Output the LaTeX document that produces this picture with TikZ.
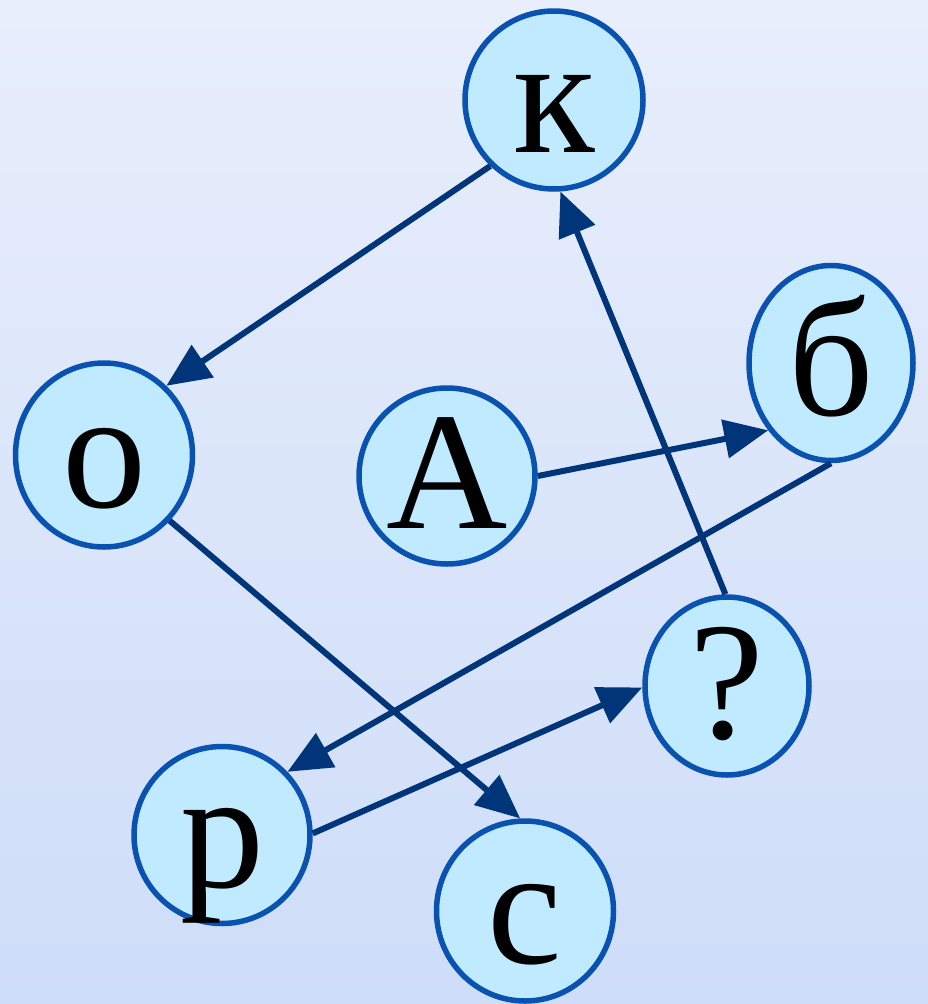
\documentclass[tikz,border=0pt]{standalone}
\usepackage{fontspec}
\setmainfont{Liberation Serif}
\usetikzlibrary{shapes.geometric,arrows.meta}
\definecolor{bgtop}{HTML}{E8EEFC}
\definecolor{bgbot}{HTML}{CEDDF8}
\definecolor{nodefill}{HTML}{C0EAFF}
\definecolor{nodeborder}{HTML}{0A52B0}
\definecolor{arrowcol}{HTML}{00357A}
\tikzset{
  letter/.style={ellipse, draw=nodeborder, line width=5.5pt, fill=nodefill,
    inner sep=0pt, font=\fontsize{168}{168}\selectfont,
    text height=104pt, text depth=0pt},
  link/.style={draw=arrowcol, line width=6pt,
    -{Triangle[length=44pt,width=38pt]}}
}
\begin{document}
\begin{tikzpicture}[x=1pt,y=-1pt]
\shade[top color=bgtop, bottom color=bgbot] (0,0) rectangle (928,1004);
\useasboundingbox (0,0) rectangle (928,1004);
\node[letter, minimum width=178pt, minimum height=178pt] (k) at (554,100) {к};
\node[letter, minimum width=164pt, minimum height=195pt] (b) at (831,363) {б};
\node[letter, minimum width=177pt, minimum height=184pt] (o) at (104,455) {о};
\node[letter, minimum width=176pt, minimum height=176pt] (a) at (447,476) {А};
\node[letter, minimum width=164pt, minimum height=178pt] (q) at (727,686) {?};
\node[letter, minimum width=176pt, minimum height=177pt] (r) at (222,835) {р};
\node[letter, minimum width=177pt, minimum height=180pt] (s) at (525,911) {с};
\draw[link] (k.226) -- (o.48);
\draw[link] (a.0) -- (b.227);
\draw[link] (b.270) -- (r.44);
\draw[link] (q.91) -- (k.274);
\draw[link] (o.315) -- (s.93);
\draw[link] (r.1) -- (q.181);
\end{tikzpicture}
\end{document}
